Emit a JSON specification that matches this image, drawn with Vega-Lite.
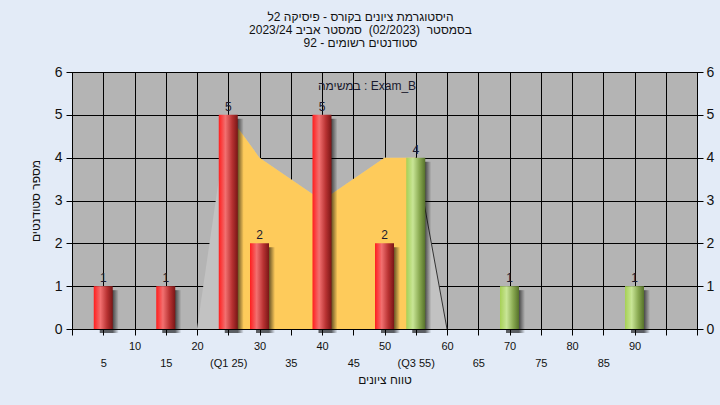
{
  "$schema": "https://vega.github.io/schema/vega-lite/v6.json",
  "width": 625,
  "height": 257,
  "autosize": {"type": "none"},
  "padding": {"left": 72, "top": 72, "right": 23, "bottom": 76},
  "background": "#e3ebf7",
  "config": {
    "font": "Liberation Sans",
    "view": {"fill": "#b4b4b4", "stroke": "#000", "strokeWidth": 1},
    "axisX": {
      "grid": true,
      "gridColor": "#000",
      "gridOpacity": 1,
      "gridWidth": 1,
      "domainColor": "#000",
      "tickColor": "#000",
      "tickSize": 6,
      "labelFontSize": 11,
      "labelColor": "#111",
      "labelPadding": 5,
      "labelLineHeight": 17,
      "labelOverlap": false,
      "labelFlush": false,
      "labelBound": false,
      "titleFontSize": 12,
      "titleFontWeight": "normal",
      "titleColor": "#111",
      "titlePadding": 6
    }
  },
  "title": {
    "text": [
      "היסטוגרמת ציונים בקורס - פיסיקה 2ל",
      "בסמסטר \u00a0(02/2023) \u00a0סמסטר אביב 2023/24",
      "סטודנטים רשומים - 92"
    ],
    "fontSize": 12,
    "fontWeight": "normal",
    "color": "#111",
    "lineHeight": 13,
    "anchor": "middle",
    "dx": -24,
    "offset": 15
  },
  "datasets": {
    "bars": [
      {"score": 5, "count": 1},
      {"score": 15, "count": 1},
      {"score": 25, "count": 5},
      {"score": 30, "count": 2},
      {"score": 40, "count": 5},
      {"score": 50, "count": 2},
      {"score": 55, "count": 4},
      {"score": 70, "count": 1},
      {"score": 90, "count": 1}
    ],
    "curve": [
      {"score": 20, "level": 0},
      {"score": 25, "level": 5},
      {"score": 30, "level": 4},
      {"score": 40, "level": 3},
      {"score": 50, "level": 4},
      {"score": 55, "level": 4},
      {"score": 60, "level": 0}
    ],
    "notes": [
      {"note": "במשימה : Exam_B"}
    ]
  },
  "layer": [
    {
      "data": {"name": "curve"},
      "mark": {"type": "area", "color": "#c2c2c2", "opacity": 1},
      "encoding": {
        "x": {
          "field": "score",
          "type": "quantitative",
          "scale": {"domain": [0, 100], "nice": false, "zero": true, "padding": 0},
          "axis": {
            "values": [0, 5, 10, 15, 20, 25, 30, 35, 40, 45, 50, 55, 60, 65, 70, 75, 80, 85, 90, 95, 100],
            "labelExpr": "datum.value == 25 ? ['', '(Q1 25)'] : datum.value == 55 ? ['', '(Q3 55)'] : (datum.value == 0 || datum.value >= 95) ? '' : datum.value % 10 == 0 ? datum.label : ['', datum.label]",
            "title": "טווח ציונים"
          }
        },
        "y": {
          "field": "level",
          "type": "quantitative",
          "scale": {"domain": [0, 6], "nice": false, "padding": 0},
          "axis": {
            "values": [0, 1, 2, 3, 4, 5, 6],
            "orient": "left",
            "grid": true,
            "gridColor": "#000",
            "gridOpacity": 1,
            "gridWidth": 1,
            "domainColor": "#000",
            "tickColor": "#000",
            "tickSize": 6,
            "labelFontSize": 14,
            "labelColor": "#111",
            "labelPadding": 4,
            "title": "מספר סטודנטים",
            "titleFontSize": 12,
            "titleFontWeight": "normal",
            "titleColor": "#111",
            "titlePadding": 12
          }
        }
      }
    },
    {
      "data": {"name": "curve"},
      "transform": [{"filter": "datum.score >= 25 && datum.score <= 55"}],
      "mark": {"type": "area", "color": "#fecb5b", "opacity": 1},
      "encoding": {
        "x": {
          "field": "score",
          "type": "quantitative",
          "axis": {
            "values": [0, 5, 10, 15, 20, 25, 30, 35, 40, 45, 50, 55, 60, 65, 70, 75, 80, 85, 90, 95, 100],
            "labelExpr": "datum.value == 25 ? ['', '(Q1 25)'] : datum.value == 55 ? ['', '(Q3 55)'] : (datum.value == 0 || datum.value >= 95) ? '' : datum.value % 10 == 0 ? datum.label : ['', datum.label]",
            "title": "טווח ציונים"
          }
        },
        "y": {"field": "level", "type": "quantitative", "axis": null}
      }
    },
    {
      "data": {"name": "curve"},
      "transform": [{"filter": "datum.score >= 55"}],
      "mark": {"type": "line", "color": "#333", "strokeWidth": 1},
      "encoding": {
        "x": {
          "field": "score",
          "type": "quantitative",
          "axis": {
            "values": [0, 5, 10, 15, 20, 25, 30, 35, 40, 45, 50, 55, 60, 65, 70, 75, 80, 85, 90, 95, 100],
            "labelExpr": "datum.value == 25 ? ['', '(Q1 25)'] : datum.value == 55 ? ['', '(Q3 55)'] : (datum.value == 0 || datum.value >= 95) ? '' : datum.value % 10 == 0 ? datum.label : ['', datum.label]",
            "title": "טווח ציונים"
          }
        },
        "y": {"field": "level", "type": "quantitative", "axis": null}
      }
    },
    {
      "data": {"name": "bars"},
      "mark": {
        "type": "bar",
        "size": 19,
        "xOffset": 6,
        "yOffset": 4,
        "color": {
          "gradient": "linear",
          "x1": 0, "x2": 1, "y1": 0, "y2": 0,
          "stops": [
            {"offset": 0, "color": "rgba(0,0,0,0.6)"},
            {"offset": 0.68, "color": "rgba(0,0,0,0.6)"},
            {"offset": 1, "color": "rgba(0,0,0,0)"}
          ]
        }
      },
      "encoding": {
        "x": {
          "field": "score",
          "type": "quantitative",
          "axis": {
            "values": [0, 5, 10, 15, 20, 25, 30, 35, 40, 45, 50, 55, 60, 65, 70, 75, 80, 85, 90, 95, 100],
            "labelExpr": "datum.value == 25 ? ['', '(Q1 25)'] : datum.value == 55 ? ['', '(Q3 55)'] : (datum.value == 0 || datum.value >= 95) ? '' : datum.value % 10 == 0 ? datum.label : ['', datum.label]",
            "title": "טווח ציונים"
          }
        },
        "y": {"field": "count", "type": "quantitative", "axis": null}
      }
    },
    {
      "data": {"name": "bars"},
      "transform": [{"filter": "datum.score < 55"}],
      "mark": {
        "type": "bar",
        "size": 19,
        "color": {
          "gradient": "linear",
          "x1": 0, "x2": 1, "y1": 0, "y2": 0,
          "stops": [
            {"offset": 0, "color": "#ff1e1e"},
            {"offset": 0.35, "color": "#f27070"},
            {"offset": 0.7, "color": "#b83232"},
            {"offset": 1, "color": "#7a1616"}
          ]
        }
      },
      "encoding": {
        "x": {
          "field": "score",
          "type": "quantitative",
          "axis": {
            "values": [0, 5, 10, 15, 20, 25, 30, 35, 40, 45, 50, 55, 60, 65, 70, 75, 80, 85, 90, 95, 100],
            "labelExpr": "datum.value == 25 ? ['', '(Q1 25)'] : datum.value == 55 ? ['', '(Q3 55)'] : (datum.value == 0 || datum.value >= 95) ? '' : datum.value % 10 == 0 ? datum.label : ['', datum.label]",
            "title": "טווח ציונים"
          }
        },
        "y": {"field": "count", "type": "quantitative", "axis": null}
      }
    },
    {
      "data": {"name": "bars"},
      "transform": [{"filter": "datum.score >= 55"}],
      "mark": {
        "type": "bar",
        "size": 19,
        "color": {
          "gradient": "linear",
          "x1": 0, "x2": 1, "y1": 0, "y2": 0,
          "stops": [
            {"offset": 0, "color": "#a6d055"},
            {"offset": 0.35, "color": "#c8e596"},
            {"offset": 0.7, "color": "#88a850"},
            {"offset": 1, "color": "#56722a"}
          ]
        }
      },
      "encoding": {
        "x": {
          "field": "score",
          "type": "quantitative",
          "axis": {
            "values": [0, 5, 10, 15, 20, 25, 30, 35, 40, 45, 50, 55, 60, 65, 70, 75, 80, 85, 90, 95, 100],
            "labelExpr": "datum.value == 25 ? ['', '(Q1 25)'] : datum.value == 55 ? ['', '(Q3 55)'] : (datum.value == 0 || datum.value >= 95) ? '' : datum.value % 10 == 0 ? datum.label : ['', datum.label]",
            "title": "טווח ציונים"
          }
        },
        "y": {"field": "count", "type": "quantitative", "axis": null}
      }
    },
    {
      "data": {"name": "bars"},
      "mark": {"type": "text", "dy": -8, "fontSize": 12, "color": "#1a1a2e"},
      "encoding": {
        "x": {
          "field": "score",
          "type": "quantitative",
          "axis": {
            "values": [0, 5, 10, 15, 20, 25, 30, 35, 40, 45, 50, 55, 60, 65, 70, 75, 80, 85, 90, 95, 100],
            "labelExpr": "datum.value == 25 ? ['', '(Q1 25)'] : datum.value == 55 ? ['', '(Q3 55)'] : (datum.value == 0 || datum.value >= 95) ? '' : datum.value % 10 == 0 ? datum.label : ['', datum.label]",
            "title": "טווח ציונים"
          }
        },
        "y": {
          "field": "count",
          "type": "quantitative",
          "axis": {
            "values": [0, 1, 2, 3, 4, 5, 6],
            "orient": "right",
            "grid": false,
            "domainColor": "#000",
            "tickColor": "#000",
            "tickSize": 6,
            "labelFontSize": 14,
            "labelColor": "#111",
            "labelPadding": 3,
            "title": null
          }
        },
        "text": {"field": "count", "type": "quantitative"}
      }
    },
    {
      "data": {"name": "notes"},
      "mark": {"type": "text", "fontSize": 12, "color": "#1a1a2e", "baseline": "middle", "align": "center"},
      "encoding": {
        "x": {
          "datum": 47.2,
          "type": "quantitative",
          "axis": {
            "values": [0, 5, 10, 15, 20, 25, 30, 35, 40, 45, 50, 55, 60, 65, 70, 75, 80, 85, 90, 95, 100],
            "labelExpr": "datum.value == 25 ? ['', '(Q1 25)'] : datum.value == 55 ? ['', '(Q3 55)'] : (datum.value == 0 || datum.value >= 95) ? '' : datum.value % 10 == 0 ? datum.label : ['', datum.label]",
            "title": "טווח ציונים"
          }
        },
        "y": {"datum": 5.68, "type": "quantitative", "axis": null},
        "text": {"field": "note", "type": "nominal"}
      }
    }
  ],
  "resolve": {"axis": {"y": "independent"}}
}
